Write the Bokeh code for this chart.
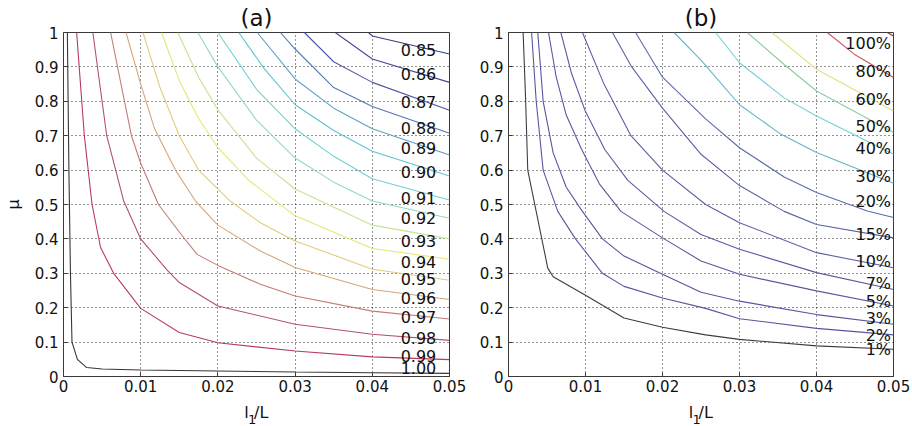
import math
from bokeh.plotting import figure
from bokeh.models import Range1d, FixedTicker, PrintfTickFormatter, ColumnDataSource
from bokeh.layouts import row, column
from bokeh.embed import file_html
from bokeh.resources import INLINE
from bokeh.core.properties import value

FONT = "DejaVu Sans"

# ---------------- panel (a): contour lines (l1/L, mu) ----------------
a085_x = [0.0395, 0.040, 0.050]
a085_y = [1.0, 0.99, 0.9375]
a086_x = [0.0352, 0.040, 0.050]
a086_y = [1.0, 0.923, 0.855]
a087_x = [0.0312, 0.035, 0.040, 0.050]
a087_y = [1.0, 0.915, 0.855, 0.774]
a088_x = [0.0281, 0.030, 0.035, 0.040, 0.050]
a088_y = [1.0, 0.952, 0.84, 0.785, 0.707]
a089_x = [0.0251, 0.030, 0.035, 0.040, 0.050]
a089_y = [1.0, 0.865, 0.78, 0.72, 0.644]
a090_x = [0.0227, 0.026, 0.030, 0.035, 0.040, 0.050]
a090_y = [1.0, 0.895, 0.79, 0.715, 0.655, 0.583]
a091_x = [0.0200, 0.025, 0.030, 0.035, 0.040, 0.050]
a091_y = [1.0, 0.835, 0.72, 0.64, 0.575, 0.513]
a092_x = [0.0174, 0.020, 0.025, 0.030, 0.035, 0.040, 0.050]
a092_y = [1.0, 0.90, 0.745, 0.635, 0.565, 0.51, 0.46]
a093_x = [0.0148, 0.0175, 0.020, 0.025, 0.030, 0.040, 0.050]
a093_y = [1.0, 0.87, 0.775, 0.635, 0.545, 0.44, 0.40]
a094_x = [0.0127, 0.015, 0.0175, 0.020, 0.024, 0.030, 0.040, 0.050]
a094_y = [1.0, 0.86, 0.75, 0.665, 0.57, 0.467, 0.372, 0.341]
a095_x = [0.0103, 0.0125, 0.015, 0.0175, 0.0216, 0.0255, 0.030, 0.040, 0.050]
a095_y = [1.0, 0.84, 0.70, 0.60, 0.51, 0.447, 0.394, 0.312, 0.28]
a096_x = [0.0081, 0.010, 0.0118, 0.0145, 0.0171, 0.020, 0.0255, 0.030, 0.040, 0.050]
a096_y = [1.0, 0.85, 0.72, 0.60, 0.51, 0.44, 0.365, 0.317, 0.253, 0.224]
a097_x = [0.0061, 0.0088, 0.010, 0.0123, 0.015, 0.0173, 0.020, 0.0255, 0.030, 0.040, 0.050]
a097_y = [1.0, 0.70, 0.62, 0.50, 0.42, 0.355, 0.323, 0.268, 0.234, 0.19, 0.167]
a098_x = [0.0038, 0.0056, 0.0078, 0.010, 0.0134, 0.015, 0.020, 0.030, 0.040, 0.050]
a098_y = [1.0, 0.70, 0.51, 0.40, 0.31, 0.273, 0.205, 0.152, 0.123, 0.105]
a099_x = [0.0017, 0.0027, 0.0037, 0.0048, 0.0065, 0.010, 0.015, 0.020, 0.030, 0.040, 0.050]
a099_y = [1.0, 0.70, 0.50, 0.375, 0.30, 0.198, 0.128, 0.098, 0.074, 0.057, 0.049]
a100_x = [0.0005, 0.0007, 0.0009, 0.0011, 0.0018, 0.003, 0.005, 0.010, 0.020, 0.030, 0.040, 0.050]
a100_y = [1.0, 0.6, 0.3, 0.1, 0.05, 0.026, 0.022, 0.019, 0.016, 0.013, 0.011, 0.009]

a_levels = ["0.85", "0.86", "0.87", "0.88", "0.89", "0.90", "0.91", "0.92",
            "0.93", "0.94", "0.95", "0.96", "0.97", "0.98", "0.99", "1.00"]
a_label_y = [0.950, 0.879, 0.797, 0.723, 0.665, 0.595, 0.520, 0.461,
             0.394, 0.333, 0.283, 0.229, 0.174, 0.113, 0.061, 0.026]

# ---------------- panel (b): contour lines (l1/L, mu) ----------------
b001_x = [0.0019, 0.0022, 0.0025, 0.0051, 0.0058, 0.010, 0.015, 0.020, 0.0256, 0.030, 0.040, 0.050]
b001_y = [1.0, 0.82, 0.60, 0.315, 0.29, 0.236, 0.170, 0.143, 0.121, 0.108, 0.089, 0.079]
b002_x = [0.0030, 0.0036, 0.0045, 0.0064, 0.0087, 0.0122, 0.015, 0.020, 0.0256, 0.030, 0.040, 0.050]
b002_y = [1.0, 0.80, 0.60, 0.48, 0.40, 0.30, 0.262, 0.228, 0.198, 0.168, 0.140, 0.121]
b003_x = [0.0038, 0.0045, 0.0058, 0.0075, 0.0096, 0.0122, 0.015, 0.020, 0.025, 0.030, 0.040, 0.050]
b003_y = [1.0, 0.80, 0.65, 0.55, 0.48, 0.40, 0.35, 0.297, 0.245, 0.219, 0.180, 0.152]
b005_x = [0.0052, 0.0062, 0.0075, 0.0095, 0.0118, 0.0146, 0.020, 0.025, 0.030, 0.040, 0.050]
b005_y = [1.0, 0.87, 0.76, 0.66, 0.56, 0.48, 0.403, 0.336, 0.297, 0.249, 0.205]
b007_x = [0.0068, 0.0082, 0.010, 0.0125, 0.0155, 0.0202, 0.025, 0.030, 0.040, 0.050]
b007_y = [1.0, 0.88, 0.77, 0.66, 0.57, 0.48, 0.413, 0.37, 0.302, 0.253]
b010_x = [0.0096, 0.0124, 0.0159, 0.020, 0.0256, 0.030, 0.040, 0.050]
b010_y = [1.0, 0.85, 0.70, 0.60, 0.50, 0.447, 0.36, 0.316]
b015_x = [0.0135, 0.016, 0.020, 0.025, 0.030, 0.0358, 0.040, 0.050]
b015_y = [1.0, 0.90, 0.78, 0.646, 0.555, 0.48, 0.442, 0.403]
b020_x = [0.0165, 0.020, 0.0256, 0.030, 0.0358, 0.040, 0.0466, 0.050]
b020_y = [1.0, 0.87, 0.749, 0.665, 0.58, 0.535, 0.481, 0.462]
b030_x = [0.0215, 0.025, 0.030, 0.0354, 0.040, 0.050]
b030_y = [1.0, 0.92, 0.79, 0.704, 0.651, 0.562]
b040_x = [0.0269, 0.030, 0.0358, 0.040, 0.050]
b040_y = [1.0, 0.912, 0.81, 0.757, 0.646]
b050_x = [0.0310, 0.0358, 0.040, 0.050]
b050_y = [1.0, 0.907, 0.83, 0.709]
b060_x = [0.0342, 0.040, 0.050]
b060_y = [1.0, 0.893, 0.772]
b080_x = [0.0414, 0.0449, 0.050]
b080_y = [1.0, 0.937, 0.869]
b100_x = [0.0492, 0.050]
b100_y = [1.0, 0.99]

b_levels = ["1%", "2%", "3%", "5%", "7%", "10%", "15%", "20%",
            "30%", "40%", "50%", "60%", "80%", "100%"]
b_label_y = [0.078, 0.119, 0.170, 0.218, 0.271, 0.335, 0.412, 0.508,
             0.580, 0.662, 0.727, 0.804, 0.886, 0.969]

x_ticks = [0, 0.01, 0.02, 0.03, 0.04, 0.05]
y_ticks = [0, 0.1, 0.2, 0.3, 0.4, 0.5, 0.6, 0.7, 0.8, 0.9, 1]

# ---------------- styling ----------------
A_COLORS = ["#3b3b8a", "#46489a", "#5256a8", "#5676b4", "#5aa2c6", "#5ec4d2",
            "#72d2d0", "#92dcb8", "#c4e492", "#e6e674", "#e2cc7c", "#d6a67a",
            "#c47c72", "#b45268", "#b83a5c", "#3c3434"]
B_COLORS = ["#3c3c48", "#5656a0", "#5656a0", "#5858a2", "#5a5aa4", "#5a5ea6",
            "#5a62a8", "#5a6cae", "#64b4cc", "#74d0d6", "#8ccca0", "#e2e07a",
            "#c85a5a", "#903030"]

A_XS = [a085_x, a086_x, a087_x, a088_x, a089_x, a090_x, a091_x, a092_x,
        a093_x, a094_x, a095_x, a096_x, a097_x, a098_x, a099_x, a100_x]
A_YS = [a085_y, a086_y, a087_y, a088_y, a089_y, a090_y, a091_y, a092_y,
        a093_y, a094_y, a095_y, a096_y, a097_y, a098_y, a099_y, a100_y]
B_XS = [b001_x, b002_x, b003_x, b005_x, b007_x, b010_x, b015_x, b020_x,
        b030_x, b040_x, b050_x, b060_x, b080_x, b100_x]
B_YS = [b001_y, b002_y, b003_y, b005_y, b007_y, b010_y, b015_y, b020_y,
        b030_y, b040_y, b050_y, b060_y, b080_y, b100_y]

MAIN_H = 397
STRIP_H = 426 - MAIN_H


def make_fig(width, mbl, mbr, title):
    p = figure(width=width, height=MAIN_H, x_range=Range1d(0, 0.05), y_range=Range1d(0, 1),
               output_backend="svg", toolbar_location=None,
               min_border_left=mbl, min_border_right=mbr,
               min_border_top=31, min_border_bottom=MAIN_H - 376, title=title)
    p.title.align = "center"
    p.title.text_font = FONT
    p.title.text_font_size = "23px"
    p.title.text_font_style = "normal"
    p.title.text_color = "#111111"
    p.title.standoff = 4
    p.background_fill_color = "white"
    p.border_fill_color = "white"
    p.outline_line_color = "#3a3a3a"
    p.outline_line_width = 1
    p.xaxis.ticker = FixedTicker(ticks=x_ticks)
    p.yaxis.ticker = FixedTicker(ticks=y_ticks)
    p.xaxis.formatter = PrintfTickFormatter(format="%g")
    p.yaxis.formatter = PrintfTickFormatter(format="%g")
    for ax in (p.xaxis, p.yaxis):
        ax.major_tick_in = 4
        ax.major_tick_out = 0
        ax.minor_tick_line_color = None
        ax.axis_line_color = "#3a3a3a"
        ax.major_tick_line_color = "#3a3a3a"
        ax.major_label_text_font = FONT
        ax.major_label_text_font_size = "15px"
        ax.major_label_text_color = "#111111"
    p.xaxis.major_label_standoff = 3
    p.yaxis.major_label_standoff = 5
    p.grid.grid_line_color = "#111111"
    p.grid.grid_line_dash = "1 3"
    p.grid.grid_line_width = 1
    p.grid.grid_line_alpha = 0.9
    return p


def make_strip(width, mbl, mbr, xr):
    s = figure(width=width, height=STRIP_H, x_range=xr, y_range=Range1d(0, STRIP_H),
               output_backend="svg", toolbar_location=None,
               x_axis_location=None, y_axis_location=None,
               min_border_left=mbl, min_border_right=mbr,
               min_border_top=0, min_border_bottom=0)
    s.outline_line_color = None
    s.background_fill_color = "white"
    s.border_fill_color = "white"
    s.xgrid.visible = False
    s.ygrid.visible = False
    base = 426 - 412.0
    sub = 426 - 418.5
    common = dict(text_font=value(FONT), text_color="#111111",
                  text_align="left", text_baseline="alphabetic")
    s.text(x=[0.025], y=[base], text=["l"], x_offset=-12.2, text_font_size="16px", **common)
    s.text(x=[0.025], y=[sub], text=["1"], x_offset=-8.6, text_font_size="13px", **common)
    s.text(x=[0.025], y=[base], text=["/L"], x_offset=-2.4, text_font_size="16px", **common)
    return s


# ---------------- panel (a) ----------------
p1 = make_fig(470, 63, 21, "(a)")
p1.multi_line(xs="xs", ys="ys", line_color="color", line_width=1.1,
              source=ColumnDataSource(dict(xs=A_XS, ys=A_YS, color=A_COLORS)))
p1.text(x=[0.04598] * len(a_levels), y=a_label_y, text=a_levels,
        text_font=value(FONT), text_font_size="16px", text_color="#111111",
        text_align="center", text_baseline="middle")
p1.yaxis.axis_label = "\u03bc"
p1.yaxis.axis_label_text_font = FONT
p1.yaxis.axis_label_text_font_size = "16px"
p1.yaxis.axis_label_text_font_style = "normal"
p1.yaxis.axis_label_text_color = "#111111"
p1.yaxis.axis_label_standoff = 9
s1 = make_strip(470, 63, 21, p1.x_range)

# ---------------- panel (b) ----------------
p2 = make_fig(442, 38, 19, "(b)")
p2.multi_line(xs="xs", ys="ys", line_color="color", line_width=1.1,
              source=ColumnDataSource(dict(xs=B_XS, ys=B_YS, color=B_COLORS)))
p2.text(x=[0.04968] * len(b_levels), y=b_label_y, text=b_levels,
        text_font=value(FONT), text_font_size="16px", text_color="#111111",
        text_align="right", text_baseline="middle")
s2 = make_strip(442, 38, 19, p2.x_range)

layout = row(column(p1, s1, spacing=0), column(p2, s2, spacing=0), spacing=0)
open("out.html", "w").write(file_html(layout, INLINE))
